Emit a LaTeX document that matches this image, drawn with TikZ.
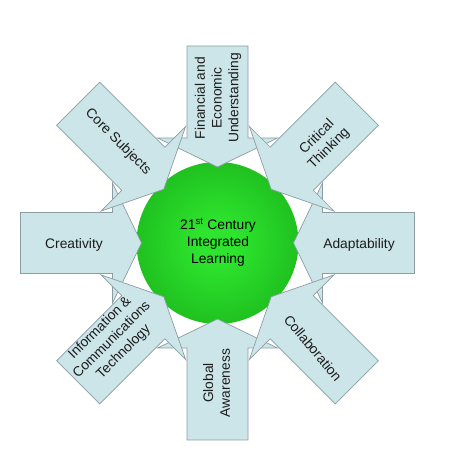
\documentclass[tikz,border=0pt]{standalone}
\usepackage{fontspec}
\setmainfont{Liberation Sans}
\definecolor{arrowfill}{HTML}{CCE5E9}
\definecolor{arrowline}{HTML}{8C9EA3}
\definecolor{gin}{HTML}{2EE42E}
\definecolor{gmid}{HTML}{1CB81C}
\definecolor{gout}{HTML}{0E850E}
\definecolor{txt}{HTML}{1C1C1C}
\pgfdeclareradialshading{greenball}{\pgfpoint{0bp}{0bp}}{color(0bp)=(gin); color(6bp)=(gin); color(30bp)=(gmid); color(50bp)=(gout)}
\tikzset{
  blockarrow/.style={fill=arrowfill, draw=arrowline, line width=0.7pt, line join=miter},
  lbl/.style={font=\fontsize{13.8}{16.8}\selectfont, text=txt, align=center, inner sep=0pt},
  inarrow/.pic={\path[blockarrow] (76,0) -- (105,60) -- (105,30.5) -- (197,30.5) -- (197,-30.5) -- (105,-30.5) -- (105,-60) -- cycle;}
}
\begin{document}
\begin{tikzpicture}[x=1pt,y=1pt]
\useasboundingbox (0,0) rectangle (454,464);
\coordinate (c) at (217.5,221);
\shade[shading=greenball] (c) circle (81);
\pic[rotate=0]   at (c) {inarrow};
\pic[rotate=90]  at (c) {inarrow};
\pic[rotate=180] at (c) {inarrow};
\pic[rotate=270] at (c) {inarrow};
\pic[rotate=135] at (c) {inarrow};
\pic[rotate=45]  at (c) {inarrow};
\pic[rotate=225] at (c) {inarrow};
\pic[rotate=315] at (c) {inarrow};
\node[lbl, text=black] (center) at (218,222) {21\textsuperscript{st} Century\\Integrated\\Learning};
\node[lbl, rotate=90] (fin) at (218,366) {Financial and\\Economic\\Understanding};
\node[lbl] (cre) at (74,219) {Creativity};
\node[lbl] (ada) at (359,219) {Adaptability};
\node[lbl, rotate=90] (glo) at (216.5,81) {Global\\Awareness};
\node[lbl, rotate=-45] (cor) at (118,322) {Core Subjects};
\node[lbl, rotate=45] (cri) at (323,321) {Critical\\Thinking};
\node[lbl, rotate=-50] (col) at (313,116) {Collaboration};
\node[lbl, rotate=45] (inf) at (112,124) {Information \&\\Communications\\Technology};
\end{tikzpicture}
\end{document}
